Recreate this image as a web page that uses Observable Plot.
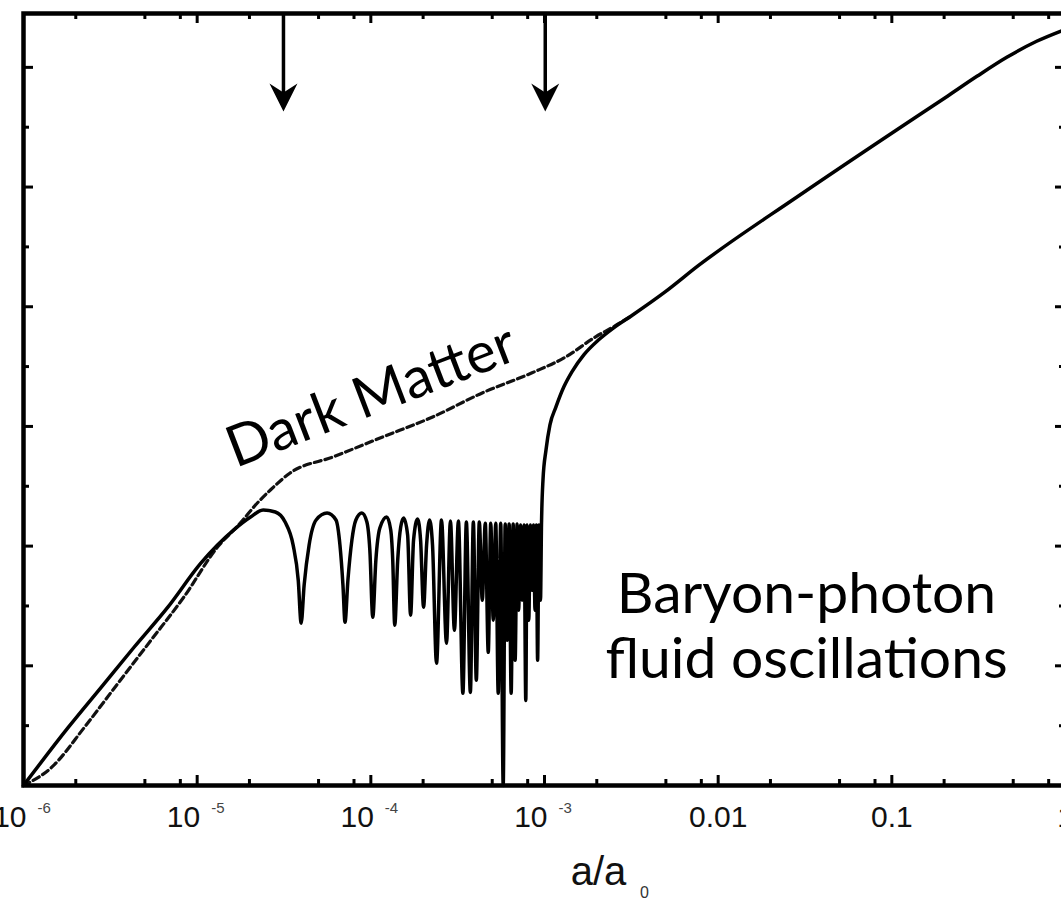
<!DOCTYPE html>
<html><head><meta charset="utf-8">
<script src="https://cdn.jsdelivr.net/npm/d3@7"></script>
<script src="https://cdn.jsdelivr.net/npm/@observablehq/plot@0.6"></script>
<style>
html,body{margin:0;padding:0;background:#fff;overflow:hidden;}
#chart svg{display:block;}
</style></head><body><div id="chart"></div>
<script>
// Solid curve: baryon-photon fluid (a/a0, amplitude in axis units)
const solidA = [1.0e-6, 1.81e-6, 2.80e-6, 4.33e-6, 6.78e-6, 1.05e-5, 1.62e-5, 2.03e-5, 2.40e-5,
  2.82e-5, 3.21e-5, 3.57e-5, 3.82e-5, 3.97e-5, 4.13e-5, 4.41e-5, 4.84e-5, 5.60e-5,
  6.30e-5, 6.64e-5, 6.91e-5, 7.10e-5, 7.38e-5, 7.78e-5, 8.20e-5, 8.88e-5,
  9.49e-5, 9.87e-5, 1.026e-4, 1.069e-4, 1.127e-4, 1.235e-4,
  1.302e-4, 1.337e-4, 1.373e-4, 1.428e-4, 1.486e-4, 1.545e-4,
  1.629e-4, 1.694e-4, 1.762e-4, 1.858e-4, 1.934e-4, 2.012e-4, 2.094e-4, 2.178e-4, 2.266e-4, 2.389e-4,
  2.552e-4, 2.727e-4, 2.873e-4, 3.029e-4, 3.193e-4, 3.389e-4, 3.549e-4, 3.742e-4, 3.893e-4, 4.050e-4,
  4.213e-4, 4.383e-4, 4.560e-4, 4.744e-4, 4.903e-4, 5.069e-4, 5.239e-4, 5.414e-4, 5.597e-4, 5.784e-4,
  5.938e-4, 6.097e-4, 6.259e-4, 6.427e-4, 6.598e-4, 6.774e-4, 6.955e-4, 7.094e-4, 7.284e-4, 7.430e-4,
  7.628e-4, 7.802e-4, 7.936e-4, 8.117e-4, 8.289e-4, 8.478e-4, 8.648e-4, 8.821e-4, 8.973e-4, 9.127e-4,
  9.297e-4, 9.483e-4, 9.608e-4,
  9.80e-4, 1.020e-3, 1.075e-3, 1.164e-3, 1.293e-3, 1.438e-3, 1.684e-3, 2.052e-3, 2.502e-3, 3.172e-3,
  4.97e-3, 7.68e-3, 2.87e-2, 0.1075, 0.208, 0.309, 0.459, 0.682, 1.0];
const solidY = [0, 0.485, 0.820, 1.155, 1.490, 1.858, 2.134, 2.243, 2.301,
  2.285, 2.201, 2.008, 1.715, 1.356, 1.674, 2.008, 2.218, 2.276,
  2.218, 2.008, 1.674, 1.364, 1.715, 2.050, 2.218, 2.276,
  2.201, 1.967, 1.406, 1.883, 2.151, 2.243,
  2.134, 1.883, 1.339, 1.883, 2.159, 2.234,
  2.092, 1.423, 2.050, 2.226, 2.050, 1.490, 2.008, 2.218, 2.008, 1.021,
  2.218, 1.188, 2.209, 1.297, 2.209, 0.770, 2.201, 0.778, 2.201, 0.879,
  2.201, 1.548, 2.192, 1.113, 2.192, 1.381, 2.192, 0.770, 2.192, 0,
  2.184, 1.213, 2.184, 0.770, 2.184, 1.046, 2.184, 1.464, 2.176, 1.548,
  2.176, 0.711, 2.176, 1.381, 2.176, 1.632, 2.176, 1.464, 2.176, 1.046,
  2.176, 1.548, 2.176,
  2.552, 2.803, 3.013, 3.163, 3.331, 3.456, 3.598, 3.724, 3.824, 3.925,
  4.126, 4.343, 4.921, 5.481, 5.757, 5.925, 6.084, 6.218, 6.318];

// Dashed curve: dark matter
const darkA = [1.0e-6, 1.45e-6, 2.24e-6, 3.50e-6, 5.42e-6, 8.37e-6, 1.31e-5, 1.77e-5, 2.22e-5, 2.64e-5,
  3.43e-5, 6.05e-5, 1.17e-4, 2.27e-4, 4.38e-4, 8.48e-4, 1.33e-3, 1.97e-3, 2.50e-3, 3.172e-3];
const darkY = [0, 0.151, 0.485, 0.854, 1.213, 1.573, 1.992, 2.192, 2.360, 2.469,
  2.611, 2.745, 2.912, 3.079, 3.280, 3.448, 3.582, 3.749, 3.833, 3.925];

// Axis ticks and labels
const xMajor = [1e-5, 1e-4, 1e-3, 1e-2, 1e-1];
const xMinor = [2e-6, 5e-6, 8e-6, 2e-5, 5e-5, 8e-5, 2e-4, 5e-4, 8e-4, 2e-3, 5e-3, 8e-3, 2e-2, 5e-2, 8e-2, 0.2, 0.5, 0.8];
const yMajor = [1, 2, 3, 4, 5, 6];
const yMinor = [0.5, 1.5, 2.5, 3.5, 4.5, 5.5];
const powTicks = [1e-6, 1e-5, 1e-4, 1e-3];
const powBase = ["10", "10", "10", "10"];
const powExp = ["-6", "-5", "-4", "-3"];
const decTicks = [0.01, 0.1, 1];
const decLabels = ["0.01", "0.1", "1"];

// Arrows (epochs) and annotations
const arrowA = [3.14e-5, 1.01e-3];
const arrowTipY = 5.632;
const noteA = [9.95e-5, 0.03226];
const noteY = [3.272, 1.343];
const noteText = ["Dark Matter", "Baryon-photon\nfluid oscillations"];
const noteRotate = [-21, 0];

const solid = solidA.map((a, i) => ({a, y: solidY[i]}));
const dark = darkA.map((a, i) => ({a, y: darkY[i]}));
const notes = noteA.map((a, i) => ({a, y: noteY[i], text: noteText[i], rotate: noteRotate[i]}));

const H = 785 - 13, W = 1065 - 23;
const stealth = {draw(ctx) {
  ctx.moveTo(0, 0); ctx.lineTo(-14, -28); ctx.lineTo(0, -19); ctx.lineTo(14, -28); ctx.closePath();
}};
const labelFont = "Liberation Sans, Arial, sans-serif";
const noteFont = "Lato, Open Sans, sans-serif";

const chart = Plot.plot({
  width: 1061, height: 906,
  marginLeft: 23, marginRight: -4, marginTop: 13, marginBottom: 121,
  style: {background: "white", overflow: "hidden"},
  x: {type: "log", domain: [1e-6, 1], axis: null},
  y: {domain: [0, 6.45], axis: null},
  marks: [
    // inward ticks
    Plot.tickX(xMajor, {x: d => d, insetTop: H - 10, stroke: "black", strokeWidth: 3}),
    Plot.tickX(xMajor, {x: d => d, insetBottom: H - 10, stroke: "black", strokeWidth: 3}),
    Plot.tickX(xMinor, {x: d => d, insetTop: H - 6, stroke: "black", strokeWidth: 3}),
    Plot.tickX(xMinor, {x: d => d, insetBottom: H - 6, stroke: "black", strokeWidth: 3}),
    Plot.tickY(yMajor, {y: d => d, insetRight: W - 10, stroke: "black", strokeWidth: 3}),
    Plot.tickY(yMajor, {y: d => d, insetLeft: W - 10, stroke: "black", strokeWidth: 3}),
    Plot.tickY(yMinor, {y: d => d, insetRight: W - 6, stroke: "black", strokeWidth: 3}),
    Plot.tickY(yMinor, {y: d => d, insetLeft: W - 6, stroke: "black", strokeWidth: 3}),
    // curves
    Plot.line(dark, {x: "a", y: "y", curve: "monotone-x", stroke: "#111", strokeWidth: 3.2, strokeDasharray: "7,4"}),
    Plot.line(solid, {x: "a", y: "y", curve: "monotone-x", stroke: "black", strokeWidth: 3.5, strokeLinejoin: "round"}),
    // arrows
    Plot.ruleX(arrowA, {x: d => d, y1: 6.45, y2: arrowTipY, insetBottom: 12, stroke: "black", strokeWidth: 3.5}),
    Plot.dot(arrowA, {x: d => d, y: arrowTipY, symbol: stealth, r: 5, fill: "black", stroke: "none"}),
    Plot.frame({stroke: "black", strokeWidth: 4.5}),
    // tick labels
    Plot.text(powTicks, {x: d => d, text: (d, i) => powBase[i], frameAnchor: "bottom", lineAnchor: "bottom", textAnchor: "end", dx: 3, dy: 41, fontSize: 30, fontFamily: labelFont, fill: "#111"}),
    Plot.text(powTicks, {x: d => d, text: (d, i) => powExp[i], frameAnchor: "bottom", lineAnchor: "bottom", textAnchor: "start", dx: 14, dy: 27, fontSize: 15, fontFamily: labelFont, fill: "#444"}),
    Plot.text(decTicks, {x: d => d, text: (d, i) => decLabels[i], frameAnchor: "bottom", lineAnchor: "bottom", textAnchor: "middle", dy: 41, fontSize: 30, fontFamily: labelFont, fill: "#111"}),
    // axis title a/a0
    Plot.text(["a/a"], {frameAnchor: "bottom", text: d => d, lineAnchor: "bottom", textAnchor: "middle", dx: 54, dy: 99, fontSize: 40, fontFamily: labelFont, fill: "#111"}),
    Plot.text(["0"], {frameAnchor: "bottom", text: d => d, lineAnchor: "bottom", textAnchor: "middle", dx: 100, dy: 112, fontSize: 16, fontFamily: labelFont, fill: "#333"}),
    // annotations
    Plot.text(notes, {x: "a", y: "y", text: "text", rotate: "rotate", textAnchor: "middle", lineAnchor: "middle", lineHeight: 1.14, fontSize: 57, fontFamily: noteFont, fill: "black"})
  ]
});
document.getElementById("chart").append(chart);
</script>
</body></html>
